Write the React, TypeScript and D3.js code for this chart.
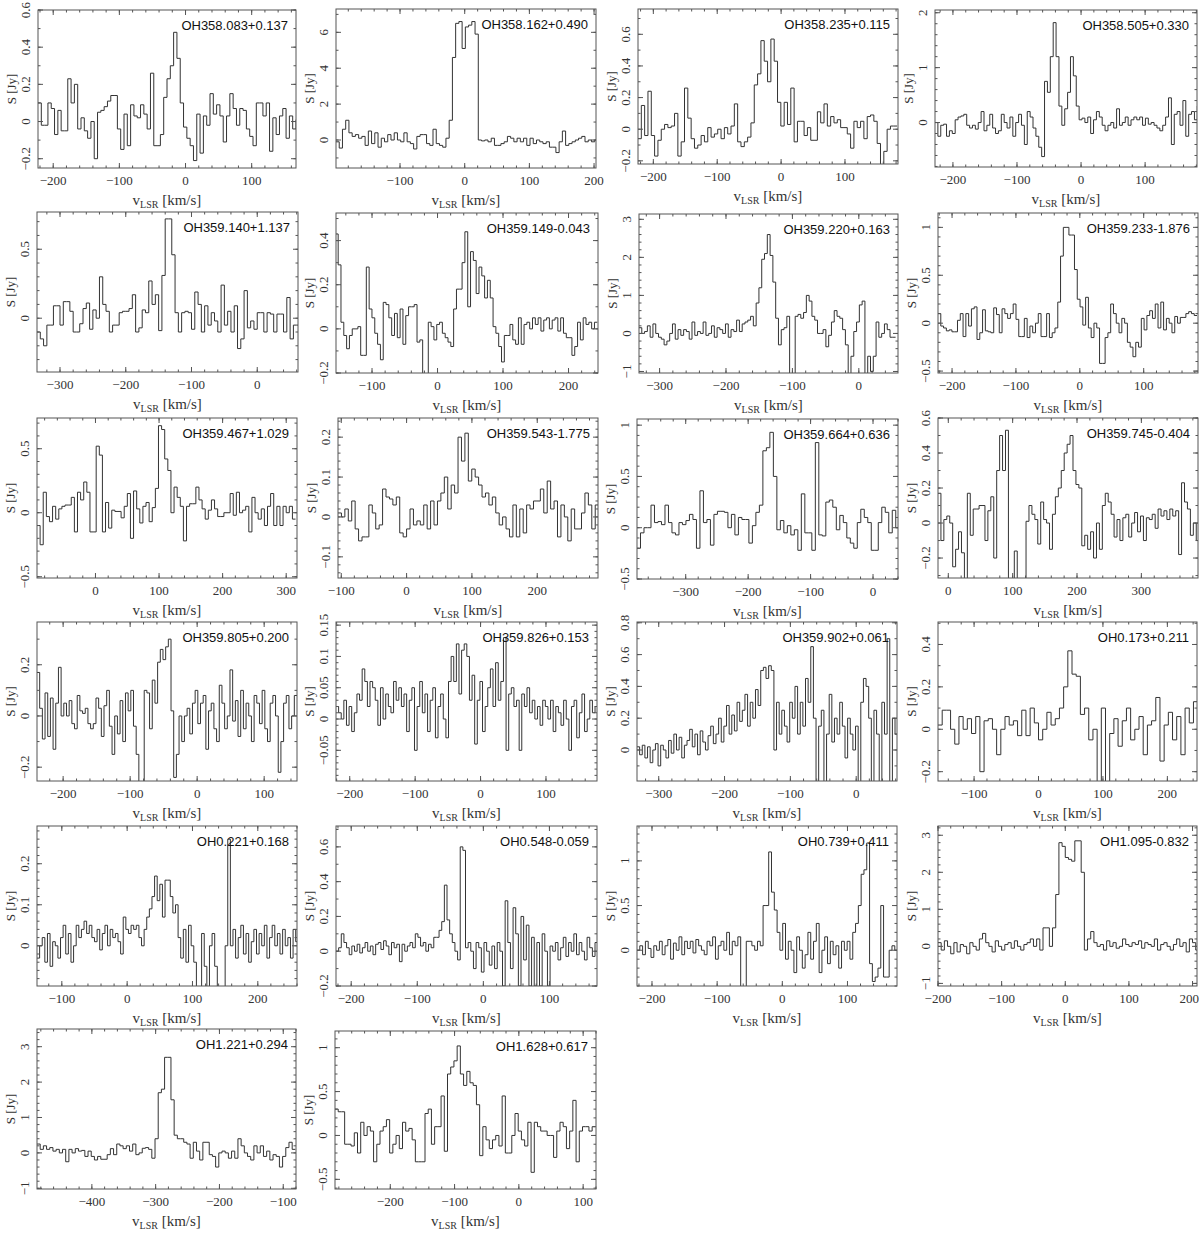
import React from 'react';
import * as d3 from 'd3';

// ---------- data ----------
const names = [
  'OH358.083+0.137', 'OH358.162+0.490', 'OH358.235+0.115', 'OH358.505+0.330',
  'OH359.140+1.137', 'OH359.149-0.043', 'OH359.220+0.163', 'OH359.233-1.876',
  'OH359.467+1.029', 'OH359.543-1.775', 'OH359.664+0.636', 'OH359.745-0.404',
  'OH359.805+0.200', 'OH359.826+0.153', 'OH359.902+0.061', 'OH0.173+0.211',
  'OH0.221+0.168', 'OH0.548-0.059', 'OH0.739+0.411', 'OH1.095-0.832',
  'OH1.221+0.294', 'OH1.628+0.617',
];

const xDomains: [number, number][] = [
  [-223, 167], [-199, 203], [-224, 183], [-228, 181],
  [-335, 62], [-155, 245], [-331, 59], [-222, 185],
  [-92, 317], [-105, 293], [-378, 40], [-16, 388],
  [-239, 149], [-221, 178], [-333, 62], [-156, 246],
  [-138, 260], [-223, 172], [-223, 176], [-200, 207],
  [-486, -80], [-286, 120],
];

const yDomains: [number, number][] = [
  [-0.25, 0.6], [-1.56, 7.3], [-0.22, 0.76], [-0.81, 2.05],
  [-0.39, 0.77], [-0.2, 0.525], [-1.04, 3.14], [-0.52, 1.15],
  [-0.51, 0.74], [-0.153, 0.248], [-0.5, 1.06], [-0.314, 0.6],
  [-0.254, 0.367], [-0.099, 0.155], [-0.195, 0.805], [-0.244, 0.506],
  [-0.098, 0.292], [-0.2, 0.72], [-0.4, 1.39], [-1.07, 3.25],
  [-1.02, 3.5], [-0.61, 1.19],
];

const yMajorSteps = [
  0.2, 2, 0.2, 1,
  0.5, 0.2, 1, 0.5,
  0.5, 0.1, 0.5, 0.2,
  0.2, 0.05, 0.2, 0.2,
  0.1, 0.2, 0.5, 1,
  1, 0.5,
];

// channel velocity of first channel and channel width (km/s)
const chanStart = [
  -223, -199, -224, -228,
  -335, -156, -331, -222,
  -92, -105, -378, -16,
  -239, -221, -333, -156,
  -138, -223, -223, -200,
  -486, -286,
];
const chanWidth = [
  5, 5, 5.2, 4.5,
  5, 4.3, 4.2, 4.36,
  4.9, 5.25, 5.6, 4.56,
  4, 4, 4, 6.5,
  4, 4, 4.3, 5,
  5, 5,
];

const s01 = [0.10, -0.02, -0.02, 0.10, 0.07, -0.07, 0.06, -0.05, -0.05, 0.23, 0.10, 0.20, -0.04, 0.02, -0.05, -0.09, 0.00, -0.20, 0.05, 0.06, 0.08, 0.11, 0.14, 0.14, -0.04, -0.15, 0.04, -0.13, 0.09, 0.03, 0.02, 0.09, 0.04, -0.04, 0.26, -0.13, -0.13, -0.07, 0.13, 0.23, 0.30, 0.48, 0.34, 0.10, -0.03, -0.09, -0.13, -0.21, 0.04, -0.17, 0.03, -0.02, 0.15, 0.04, 0.09, 0.03, -0.11, 0.03, 0.15, 0.07, -0.02, 0.07, 0.06, -0.04, -0.08, -0.13, 0.10, 0.10, 0.03, 0.10, -0.16, 0.02, -0.07, 0.03, 0.07, -0.09, 0.03, -0.04, 0.01];
const s02 = [-0.1, -0.45, 0.6, 1.1, 0.4, 0.2, 0.3, 0.1, 0.2, -0.3, 0.5, -0.2, 0.4, -0.4, 0.1, -0.1, 0.3, 0.0, 0.4, 0.0, -0.1, 0.4, -0.1, -0.2, -0.5, 0.2, 0.3, 0.3, -0.2, -0.3, 0.6, -0.2, -0.3, -0.4, 0.1, 1.1, 4.6, 6.5, 6.6, 5.1, 6.3, 6.4, 6.6, 5.9, 0.0, -0.05, 0.0, -0.1, 0.1, -0.3, -0.3, -0.2, -0.1, 0.2, 0.1, -0.1, 0.1, -0.1, 0.1, -0.3, 0.1, -0.2, 0.0, -0.1, -0.2, -0.1, -0.4, -0.4, -0.7, -0.1, 0.5, -0.3, -0.2, -0.1, 0.0, 0.1, 0.2, -0.1, 0.0, -0.1, 0.0];
const s03 = [-0.06, 0.15, -0.04, 0.24, -0.04, -0.17, -0.07, 0.00, 0.03, 0.01, 0.02, 0.10, -0.17, -0.08, 0.26, 0.07, -0.06, -0.12, -0.10, -0.04, -0.08, 0.01, -0.05, -0.03, 0.00, -0.06, 0.01, -0.03, 0.02, 0.16, -0.08, -0.11, -0.08, -0.05, 0.04, 0.28, 0.35, 0.56, 0.43, 0.30, 0.57, 0.43, 0.17, 0.02, 0.17, 0.03, 0.26, -0.08, 0.05, 0.05, -0.04, 0.01, -0.07, -0.07, 0.11, 0.04, 0.16, 0.02, 0.08, 0.04, 0.06, 0.01, 0.01, -0.03, -0.12, 0.05, 0.01, 0.05, -0.06, 0.08, 0.09, 0.05, -0.09, -0.25, -0.14, 0.00, 0.02, 0.02];
const s04 = [0.0, -0.25, -0.05, -0.03, -0.25, -0.15, -0.2, 0.05, 0.1, 0.12, 0.15, -0.05, -0.1, -0.05, -0.12, 0.0, 0.2, -0.15, -0.05, 0.15, -0.1, -0.2, -0.15, 0.15, 0.0, -0.1, 0.1, -0.25, 0.0, 0.15, -0.05, -0.4, 0.2, 0.1, -0.1, -0.25, -0.45, -0.62, 0.75, 0.55, 1.2, 1.82, 1.2, 0.3, -0.05, 0.25, 0.55, 1.2, 0.85, 0.3, 0.05, 0.08, 0.0, 0.1, -0.2, 0.05, 0.2, 0.1, -0.05, -0.15, -0.05, 0.0, -0.1, 0.25, -0.05, 0.0, 0.1, -0.05, 0.05, 0.1, 0.05, 0.1, -0.05, 0.08, -0.03, 0.0, -0.05, -0.1, -0.15, -0.05, 0.1, 0.45, -0.4, 0.15, 0.2, -0.05, 0.4, -0.25, 0.15, 0.2, 0.05, 0.3];
const s05 = [-0.1, -0.15, -0.2, -0.05, -0.05, 0.09, 0.09, -0.05, 0.12, 0.12, 0.05, -0.1, -0.1, -0.04, 0.07, 0.11, -0.08, 0.06, 0.0, 0.3, 0.1, 0.05, -0.1, -0.05, -0.05, 0.04, 0.05, 0.05, 0.07, 0.17, -0.1, -0.07, 0.06, 0.04, 0.27, 0.1, 0.17, -0.09, 0.31, 0.72, 0.72, 0.46, 0.04, -0.1, 0.04, 0.05, 0.04, -0.08, 0.19, 0.1, -0.1, 0.09, -0.05, 0.04, -0.02, -0.1, 0.24, -0.05, 0.05, -0.1, 0.09, -0.22, -0.15, 0.2, -0.07, -0.02, -0.08, 0.04, 0.04, -0.1, 0.04, 0.03, -0.1, 0.03, 0.03, -0.1, 0.15, -0.15, -0.05, -0.05];
const s06 = [0.43, 0.29, 0.03, -0.03, -0.09, -0.03, 0.0, 0.0, 0.01, -0.12, -0.12, 0.28, 0.09, 0.05, -0.02, -0.07, -0.14, 0.12, 0.11, 0.05, -0.03, 0.07, -0.04, 0.09, -0.07, 0.06, 0.1, 0.1, 0.11, -0.06, -0.05, -0.25, -0.25, 0.03, 0.01, -0.05, 0.02, 0.03, -0.02, -0.04, -0.06, -0.08, 0.09, 0.18, 0.18, 0.3, 0.44, 0.1, 0.35, 0.31, 0.16, 0.28, 0.24, 0.14, 0.22, 0.14, 0.01, -0.02, -0.08, -0.15, -0.03, -0.03, 0.02, -0.05, -0.07, 0.05, -0.07, 0.02, 0.03, 0.0, 0.05, 0.02, 0.05, -0.01, 0.04, 0.05, 0.0, 0.04, 0.05, -0.01, 0.05, -0.02, -0.04, -0.04, -0.12, -0.08, 0.03, -0.05, 0.05, 0.02, 0.03, 0.0, 0.03];
const s07 = [0.15, 0.0, 0.05, 0.2, -0.1, 0.25, 0.0, -0.1, -0.15, -0.3, -0.2, 0.0, 0.25, -0.15, 0.1, -0.05, 0.1, 0.05, -0.15, 0.3, -0.05, 0.05, 0.0, 0.3, -0.05, 0.0, 0.2, -0.1, 0.15, 0.1, 0.0, 0.25, -0.1, 0.1, 0.05, 0.35, 0.05, 0.25, 0.3, 0.35, 0.45, 0.2, 0.8, 1.2, 1.95, 2.1, 2.6, 2.05, 1.35, 0.4, -0.3, 0.1, 0.15, 0.45, -1.2, -1.2, 0.45, 0.5, 0.4, 0.55, 1.0, 0.85, 0.45, 0.35, 0.0, 0.0, 0.1, -0.35, -0.05, 0.3, 0.6, 0.45, 0.4, 0.1, -0.3, -1.2, -0.6, 0.05, 0.3, 0.75, 0.85, -1.2, -0.6, -1.0, -0.6, 0.3, -0.1, 0.0, 0.25, 0.1, -0.1, -0.1];
const s08 = [0.1, -0.03, -0.05, -0.08, -0.07, -0.09, -0.09, 0.03, 0.1, -0.14, 0.1, -0.03, 0.15, 0.17, -0.17, -0.1, 0.14, -0.08, -0.09, -0.1, 0.16, 0.09, -0.1, 0.15, 0.1, 0.05, 0.1, 0.2, 0.04, -0.14, -0.14, 0.05, -0.15, -0.03, -0.1, 0.0, 0.1, -0.14, -0.14, 0.1, -0.15, -0.1, -0.05, 0.22, 0.7, 1.0, 1.0, 0.92, 0.92, 0.56, 0.25, 0.17, -0.02, 0.27, -0.05, -0.15, 0.0, -0.05, -0.42, -0.42, -0.15, -0.1, 0.2, 0.1, 0.0, -0.1, 0.05, 0.0, -0.2, -0.25, -0.35, -0.2, -0.25, 0.05, -0.07, 0.08, 0.13, 0.05, 0.2, -0.05, 0.22, -0.07, 0.05, 0.0, -0.1, 0.07, 0.0, 0.06, 0.06, 0.1, 0.12, 0.1, 0.08];
const s09 = [-0.1, -0.25, 0.16, -0.03, -0.07, 0.05, -0.05, 0.03, 0.05, 0.06, 0.06, 0.12, -0.15, 0.16, 0.1, 0.24, 0.16, -0.15, -0.15, 0.52, 0.45, -0.15, 0.08, -0.12, 0.02, 0.01, 0.01, -0.04, 0.05, 0.15, -0.2, 0.17, 0.03, -0.08, 0.05, 0.08, -0.07, 0.04, 0.19, 0.68, 0.65, 0.42, 0.33, 0.0, 0.2, 0.12, 0.05, -0.22, 0.05, 0.07, 0.07, 0.2, 0.1, 0.03, -0.05, 0.02, 0.1, 0.03, -0.03, -0.03, 0.0, 0.0, 0.15, -0.02, 0.16, 0.0, 0.02, 0.05, -0.15, 0.12, 0.0, -0.05, 0.03, -0.1, 0.05, 0.15, -0.1, 0.05, -0.1, 0.05, 0.0, 0.05, -0.05];
const s10 = [0.01, 0.0, 0.02, -0.01, 0.04, -0.03, -0.06, -0.05, -0.05, 0.03, 0.01, -0.03, -0.02, 0.07, 0.05, 0.045, 0.03, 0.05, -0.04, -0.05, -0.03, 0.02, -0.02, -0.01, -0.02, 0.03, -0.03, 0.04, -0.02, 0.04, 0.06, 0.1, 0.02, 0.08, 0.06, 0.2, 0.14, 0.21, 0.09, 0.12, 0.1, 0.08, 0.05, 0.06, 0.03, 0.05, 0.01, -0.02, 0.0, -0.03, -0.05, 0.03, -0.05, 0.02, -0.04, 0.03, 0.02, 0.04, 0.04, 0.07, 0.01, 0.09, 0.02, 0.04, -0.05, 0.03, 0.0, -0.06, 0.02, -0.03, -0.03, 0.01, 0.06, 0.03, -0.03, 0.03, 0.0, 0.0];
const s11 = [-0.2, -0.05, 0.0, 0.0, 0.22, 0.05, 0.06, 0.03, 0.22, 0.05, -0.05, -0.07, 0.05, 0.03, 0.07, 0.13, 0.08, -0.2, 0.36, 0.05, 0.08, -0.17, 0.13, 0.16, 0.16, 0.15, 0.0, 0.13, -0.07, 0.1, 0.08, 0.08, -0.15, 0.02, 0.15, 0.22, 0.75, 0.78, 0.93, 0.5, -0.02, 0.07, -0.05, 0.02, -0.07, -0.02, -0.22, 0.33, -0.05, -0.05, -0.22, 0.83, -0.07, -0.08, 0.25, 0.27, 0.2, -0.02, 0.12, 0.05, -0.1, -0.15, -0.2, 0.05, 0.18, 0.1, 0.05, -0.22, -0.22, 0.05, 0.2, 0.15, -0.05, 0.17, 0.0];
const s12 = [0.17, -0.1, 0.02, 0.04, 0.0, -0.25, -0.15, -0.05, -0.17, -0.35, 0.17, -0.07, 0.08, 0.08, 0.1, 0.1, -0.1, 0.07, 0.15, -0.2, 0.3, 0.5, 0.3, 0.53, -0.4, -0.4, -0.16, -0.4, -0.4, -0.4, 0.01, 0.1, 0.05, 0.02, -0.12, 0.12, 0.02, 0.0, -0.15, 0.05, 0.15, 0.2, 0.3, 0.4, 0.45, 0.5, 0.3, 0.22, 0.2, -0.13, -0.07, -0.15, -0.05, -0.2, 0.0, -0.15, 0.1, 0.17, 0.12, 0.05, -0.08, 0.02, -0.1, 0.03, 0.05, -0.08, 0.0, 0.06, -0.05, 0.04, -0.1, 0.03, 0.02, 0.05, -0.03, 0.08, 0.04, 0.07, 0.02, 0.08, 0.04, 0.07, -0.18, 0.23, 0.12, 0.08, -0.07, 0.0, -0.1, 0.05];
const s13 = [0.17, 0.03, -0.09, 0.09, -0.08, 0.07, -0.13, 0.05, 0.19, 0.0, 0.05, 0.0, 0.06, -0.03, -0.05, 0.08, 0.02, 0.01, 0.03, -0.03, -0.05, -0.03, 0.07, 0.03, -0.08, 0.04, 0.1, -0.04, -0.15, 0.0, -0.07, 0.06, -0.1, 0.09, 0.02, 0.1, -0.04, -0.15, -0.3, -0.3, 0.1, 0.09, -0.05, 0.14, 0.05, 0.21, 0.26, 0.22, 0.27, 0.3, 0.02, -0.24, -0.15, 0.0, -0.1, 0.0, 0.03, -0.07, 0.05, 0.1, -0.03, 0.05, 0.08, -0.13, 0.02, 0.05, -0.05, -0.1, 0.12, 0.05, -0.05, 0.0, 0.18, -0.02, 0.06, -0.08, 0.1, -0.05, 0.05, 0.0, -0.1, 0.08, 0.05, -0.03, 0.1, -0.05, -0.1, 0.05, 0.08, 0.0, -0.22, -0.1, 0.05, 0.08, -0.05, 0.0, 0.08];
const s14 = [0.02, 0.01, 0.0, 0.03, -0.01, 0.02, -0.02, 0.01, 0.04, 0.03, 0.08, 0.06, 0.02, 0.06, 0.05, 0.03, -0.01, 0.05, 0.0, 0.04, 0.02, 0.01, 0.06, 0.03, 0.05, 0.02, 0.04, -0.02, 0.03, 0.05, -0.05, 0.02, 0.06, 0.01, 0.04, -0.02, 0.03, 0.05, -0.03, 0.02, 0.04, 0.0, -0.03, 0.06, 0.1, 0.06, 0.12, 0.04, 0.11, 0.12, 0.1, 0.03, 0.07, -0.04, 0.03, 0.06, -0.02, 0.02, 0.05, 0.08, 0.02, 0.09, 0.03, 0.06, 0.13, -0.05, 0.04, 0.05, 0.02, 0.03, -0.05, 0.04, 0.02, 0.05, 0.01, 0.03, 0.0, 0.02, -0.01, 0.03, 0.02, 0.0, 0.03, -0.02, 0.02, 0.01, -0.01, 0.03, 0.0, -0.05, 0.02, 0.03, -0.03, 0.01, 0.04, -0.02, 0.0, 0.03, 0.01, 0.02];
const s15 = [0.02, -0.03, 0.03, -0.05, 0.02, -0.08, 0.0, 0.04, -0.1, 0.03, 0.0, -0.05, 0.06, -0.02, 0.1, 0.0, 0.08, -0.05, 0.03, 0.06, 0.13, 0.02, 0.1, -0.03, 0.12, 0.05, 0.0, 0.09, 0.15, 0.04, 0.1, 0.2, 0.05, 0.15, 0.28, 0.1, 0.22, 0.12, 0.3, 0.18, 0.25, 0.35, 0.15, 0.3, 0.2, 0.38, 0.28, 0.5, 0.52, 0.45, 0.53, 0.5, 0.0, 0.3, 0.1, 0.25, 0.15, 0.05, 0.3, 0.2, 0.4, 0.1, 0.3, 0.15, 0.45, 0.3, 0.65, 0.2, -0.2, 0.15, 0.25, -0.2, 0.1, 0.35, 0.05, 0.2, 0.1, 0.3, 0.15, -0.05, 0.2, 0.1, 0.0, 0.15, -0.2, 0.3, 0.45, 0.4, 0.2, -0.2, 0.25, 0.1, -0.2, 0.3, 0.1, 0.7, -0.2, 0.2, 0.1];
const s16 = [0.02, 0.09, 0.09, 0.0, -0.07, 0.06, 0.0, 0.05, -0.02, 0.06, -0.2, 0.04, 0.05, 0.0, -0.12, 0.0, 0.06, 0.02, 0.04, -0.03, 0.09, -0.03, 0.1, 0.03, -0.05, 0.0, 0.08, 0.02, 0.05, 0.1, 0.2, 0.37, 0.26, 0.25, 0.07, 0.1, -0.05, 0.0, -0.25, 0.1, -0.25, -0.02, 0.05, -0.08, 0.04, 0.1, -0.05, 0.0, 0.06, -0.12, 0.02, 0.04, 0.15, -0.15, 0.02, 0.08, -0.05, 0.06, -0.12, 0.1, 0.03, 0.13];
const s17 = [-0.03, 0.0, 0.02, -0.04, 0.03, -0.05, 0.01, 0.0, -0.03, 0.02, 0.05, -0.02, 0.03, -0.04, 0.0, 0.05, 0.02, 0.04, 0.06, 0.03, 0.05, 0.02, 0.01, 0.04, -0.01, 0.03, 0.05, 0.0, 0.04, 0.02, 0.03, 0.01, -0.02, 0.07, 0.04, 0.03, 0.05, 0.04, 0.05, 0.02, 0.0, 0.04, 0.07, 0.09, 0.12, 0.17, 0.11, 0.15, 0.07, 0.16, 0.16, 0.12, 0.08, 0.1, 0.02, -0.03, 0.04, -0.04, 0.05, 0.0, -0.04, -0.12, -0.12, 0.03, -0.05, -0.1, 0.0, 0.03, -0.05, -0.12, -0.12, -0.12, 0.0, 0.26, 0.0, 0.04, -0.03, 0.02, 0.05, -0.02, 0.03, -0.04, 0.01, 0.04, -0.02, 0.03, 0.0, 0.05, -0.03, 0.02, 0.05, 0.0, 0.03, -0.02, 0.04, 0.0, 0.02, -0.03, 0.04, 0.01];
const s18 = [0.0, 0.02, 0.1, 0.05, 0.02, -0.02, 0.03, 0.0, 0.04, -0.01, 0.02, 0.05, 0.0, 0.03, -0.02, 0.04, 0.05, 0.01, 0.06, 0.03, -0.02, 0.05, 0.02, 0.04, -0.06, 0.04, 0.0, 0.03, 0.05, 0.02, 0.1, 0.08, 0.03, 0.05, 0.0, 0.04, 0.02, 0.08, 0.08, 0.12, 0.17, 0.38, 0.18, 0.1, 0.05, 0.0, -0.05, 0.6, 0.58, 0.02, 0.05, 0.0, -0.1, 0.05, 0.02, -0.12, 0.05, 0.0, -0.08, 0.03, -0.1, 0.05, 0.0, -0.2, 0.29, 0.05, -0.1, 0.25, 0.1, -0.2, 0.2, -0.05, 0.15, -0.2, 0.08, -0.2, 0.05, -0.2, 0.1, 0.0, -0.2, 0.03, 0.0, 0.05, -0.05, 0.02, 0.08, -0.03, 0.05, 0.0, 0.1, -0.02, 0.05, 0.0, -0.05, 0.08, 0.02, -0.03, 0.05];
const s19 = [0.0, 0.05, -0.05, 0.1, 0.02, -0.08, 0.05, 0.0, 0.1, -0.05, 0.05, 0.12, -0.1, 0.08, 0.0, 0.15, -0.05, 0.1, 0.02, 0.1, -0.03, 0.12, 0.05, 0.0, -0.05, 0.1, 0.05, 0.15, -0.1, 0.05, 0.1, 0.0, 0.2, -0.05, 0.1, 0.05, 0.15, -0.45, -0.45, 0.1, 0.1, 0.05, 0.0, 0.1, 0.05, 0.5, 0.5, 1.1, 0.65, 0.45, 0.2, 0.0, 0.3, -0.1, 0.1, 0.0, -0.25, 0.15, 0.0, -0.2, -0.05, 0.2, -0.1, 0.1, 0.3, -0.25, 0.0, 0.15, -0.15, 0.1, -0.05, 0.05, -0.2, 0.1, 0.0, 0.1, -0.1, 0.2, 0.3, 0.5, 0.85, 0.9, 1.2, -0.15, -0.35, -0.3, -0.2, 0.5, -0.3, -0.3, 0.0, 0.05, 0.0];
const s20 = [0.1, -0.1, 0.15, 0.0, -0.2, 0.1, -0.15, 0.05, 0.0, -0.2, 0.1, 0.0, -0.1, 0.2, 0.35, 0.1, 0.0, -0.15, 0.15, 0.0, -0.1, 0.05, 0.1, -0.05, 0.15, 0.0, -0.1, 0.05, 0.1, 0.2, 0.0, 0.2, -0.1, 0.5, 0.5, 0.0, 0.5, 1.4, 2.8, 2.7, 2.4, 2.35, 2.3, 2.85, 2.85, 2.0, -0.1, 0.2, 0.4, 0.1, 0.0, 0.05, -0.1, 0.15, 0.0, 0.1, -0.05, 0.0, 0.2, 0.05, 0.0, 0.1, 0.05, 0.15, -0.05, 0.1, 0.05, 0.0, 0.2, -0.1, 0.05, 0.1, 0.0, -0.1, 0.05, 0.2, 0.0, 0.1, -0.15, 0.2, 0.1, -0.1];
const s21 = [0.25, 0.1, 0.2, 0.1, 0.15, 0.05, 0.1, 0.0, 0.1, -0.25, 0.1, 0.0, 0.12, 0.05, 0.07, -0.1, 0.05, -0.1, -0.2, -0.1, -0.18, -0.18, -0.05, 0.12, -0.05, 0.25, 0.2, 0.12, 0.2, 0.05, 0.25, -0.05, 0.0, 0.13, 0.15, 0.1, -0.15, 0.4, 1.7, 1.8, 2.7, 2.7, 1.5, 0.5, 0.4, 0.4, 0.3, 0.25, -0.15, 0.3, 0.05, -0.2, 0.3, 0.3, -0.05, -0.1, -0.4, 0.0, 0.05, 0.0, -0.15, 0.05, -0.15, 0.4, 0.2, 0.0, -0.1, -0.2, 0.2, 0.0, 0.2, -0.1, 0.05, -0.2, -0.05, -0.1, -0.4, -0.1, 0.15, 0.3, 0.1];
const s22 = [0.3, 0.27, 0.27, -0.1, -0.1, -0.12, 0.03, -0.2, 0.15, 0.0, 0.1, 0.05, -0.3, -0.1, 0.05, 0.1, 0.18, -0.2, -0.1, 0.0, -0.15, 0.15, 0.05, 0.08, -0.05, -0.3, -0.3, -0.3, 0.25, 0.3, -0.1, 0.1, 0.1, 0.45, -0.18, 0.7, 0.78, 0.85, 1.02, 0.7, 0.57, 0.73, 0.6, 0.57, 0.35, -0.23, 0.1, -0.05, -0.15, -0.05, 0.0, -0.12, 0.45, -0.2, -0.2, 0.0, 0.25, 0.05, -0.05, -0.12, 0.15, -0.42, 0.15, 0.1, 0.05, 0.05, 0.0, 0.0, -0.25, 0.05, 0.15, 0.1, -0.15, 0.05, 0.4, -0.3, 0.05, 0.1, 0.1, 0.05, 0.1];

const spectra = [s01, s02, s03, s04, s05, s06, s07, s08, s09, s10, s11, s12, s13, s14, s15, s16, s17, s18, s19, s20, s21, s22];

// ---------- layout (page pixels: left, top, right, bottom of each frame) ----------
const FRAMES: [number, number, number, number][] = [
  [38, 10, 296, 168], [336, 9, 596, 168], [638, 9, 898, 164], [935, 10, 1197, 167],
  [37, 212, 298, 372], [336, 213, 598, 373], [639, 214, 898, 373], [938, 213, 1198, 373],
  [37, 418, 297, 578], [338, 418, 598, 578], [637, 419, 898, 579], [938, 418, 1198, 578],
  [37, 622, 297, 781], [336, 622, 597, 781], [637, 622, 897, 781], [938, 622, 1197, 781],
  [37, 826, 297, 986], [336, 826, 597, 986], [637, 826, 897, 986], [938, 826, 1197, 986],
  [37, 1029, 296, 1189], [335, 1031, 596, 1189],
];

const SERIF = "'Liberation Serif', 'DejaVu Serif', serif";
const SANS = "'Liberation Sans', Arial, sans-serif";
const FRAME_COLOR = '#555';
const LINE_COLOR = '#333';

function ticksBetween(d0: number, d1: number, step: number): number[] {
  const out: number[] = [];
  const k0 = Math.ceil(d0 / step - 1e-6);
  const k1 = Math.floor(d1 / step + 1e-6);
  for (let k = k0; k <= k1; k++) out.push(+(k * step).toFixed(6));
  return out;
}

function fmt(v: number): string {
  const s = String(+v.toFixed(4));
  return s.replace('-', '\u2212');
}

function Panel({ i }: { i: number }) {
  const [l, t, r, b] = FRAMES[i];
  const x = d3.scaleLinear().domain(xDomains[i]).range([l, r]);
  const y = d3.scaleLinear().domain(yDomains[i]).range([b, t]);
  const vals = spectra[i];
  const pts: [number, number][] = vals.map((s, k) => [chanStart[i] + k * chanWidth[i], s]);
  pts.push([chanStart[i] + vals.length * chanWidth[i], vals[vals.length - 1]]);
  const line = d3
    .line<[number, number]>()
    .x((d) => x(d[0]))
    .y((d) => y(d[1]))
    .curve(d3.curveStepAfter);

  const [xd0, xd1] = xDomains[i];
  const [yd0, yd1] = yDomains[i];
  const xMajor = ticksBetween(xd0, xd1, 100);
  const xMinor = ticksBetween(xd0, xd1, 20);
  const ym = yMajorSteps[i];
  const lead = Math.round(ym / Math.pow(10, Math.floor(Math.log10(ym) + 1e-9)));
  const ySub = lead === 2 ? 2 : 5;
  const yMajor = ticksBetween(yd0, yd1, ym);
  const yMinor = ticksBetween(yd0, yd1, ym / ySub);
  const MAJ = 5;
  const MIN = 2.5;

  const tickPaths: string[] = [];
  xMinor.forEach((v) => {
    const px = x(v);
    tickPaths.push(`M${px},${b}V${b - MIN}M${px},${t}V${t + MIN}`);
  });
  xMajor.forEach((v) => {
    const px = x(v);
    tickPaths.push(`M${px},${b}V${b - MAJ}M${px},${t}V${t + MAJ}`);
  });
  yMinor.forEach((v) => {
    const py = y(v);
    tickPaths.push(`M${l},${py}H${l + MIN}M${r},${py}H${r - MIN}`);
  });
  yMajor.forEach((v) => {
    const py = y(v);
    tickPaths.push(`M${l},${py}H${l + MAJ}M${r},${py}H${r - MAJ}`);
  });

  const clipId = `clip${i}`;
  return (
    <g>
      <defs>
        <clipPath id={clipId}>
          <rect x={l} y={t} width={r - l} height={b - t} />
        </clipPath>
      </defs>
      <path
        d={line(pts) || ''}
        fill="none"
        stroke={LINE_COLOR}
        strokeWidth={1}
        clipPath={`url(#${clipId})`}
      />
      <rect x={l} y={t} width={r - l} height={b - t} fill="none" stroke={FRAME_COLOR} strokeWidth={1} />
      <path d={tickPaths.join('')} stroke={FRAME_COLOR} strokeWidth={1} fill="none" />
      {xMajor.map((v) => {
        const px = x(v);
        const nearEdge = px + 11 > 1199;
        return (
          <text
            key={`xl${v}`}
            x={nearEdge ? 1199 : px}
            y={b + 17}
            textAnchor={nearEdge ? 'end' : 'middle'}
            fontFamily={SERIF}
            fontSize={13}
            fill="#333"
          >
            {fmt(v)}
          </text>
        );
      })}
      {yMajor.map((v) => (
        <text
          key={`yl${v}`}
          transform={`translate(${l - 8},${y(v)}) rotate(-90)`}
          textAnchor="middle"
          fontFamily={SERIF}
          fontSize={13}
          fill="#333"
        >
          {fmt(v)}
        </text>
      ))}
      <text
        transform={`translate(${l - 22},${(t + b) / 2}) rotate(-90)`}
        textAnchor="middle"
        fontFamily={SERIF}
        fontSize={13}
        fill="#333"
      >
        S [Jy]
      </text>
      <text x={(l + r) / 2} y={b + 37} textAnchor="middle" fontFamily={SERIF} fontSize={15} fill="#333">
        v
        <tspan fontSize={10} dy={3}>
          LSR
        </tspan>
        <tspan dy={-3}> [km/s]</tspan>
      </text>
      <text x={r - 8} y={t + 20} textAnchor="end" fontFamily={SANS} fontSize={13} fill="#111">
        {names[i]}
      </text>
    </g>
  );
}

export default function App() {
  return (
    <svg
      width={1200}
      height={1233}
      viewBox="0 0 1200 1233"
      style={{ position: 'absolute', left: 0, top: 0, background: '#fff' }}
    >
      <rect x={0} y={0} width={1200} height={1233} fill="#fff" />
      {names.map((_, i) => (
        <Panel key={i} i={i} />
      ))}
    </svg>
  );
}
